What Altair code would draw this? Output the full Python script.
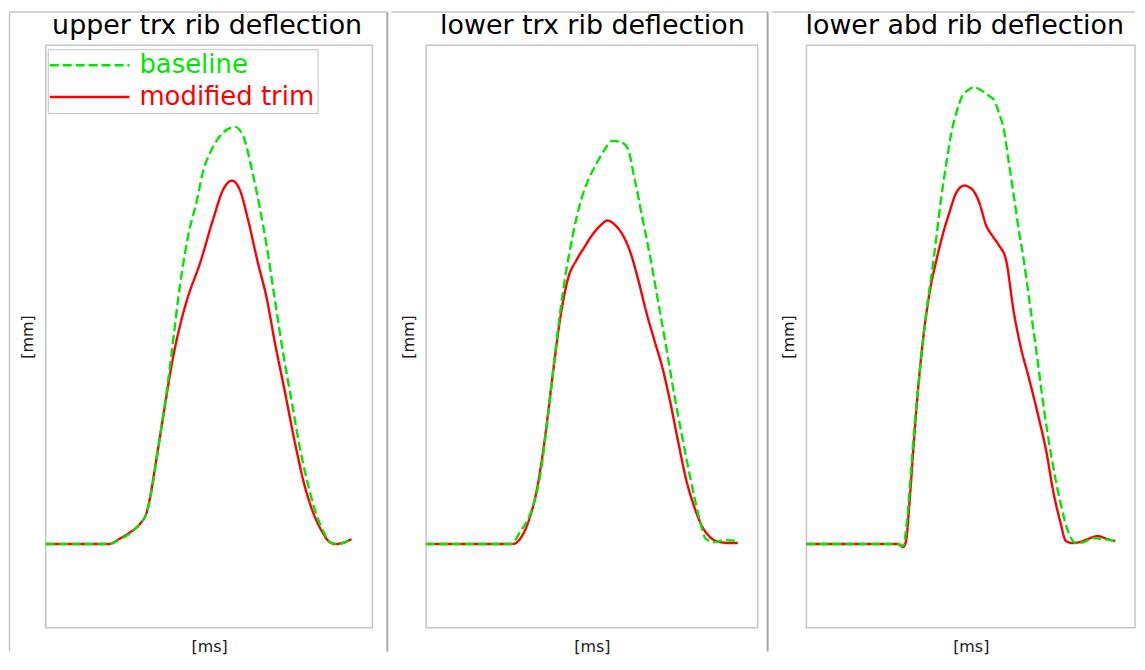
import altair as alt
import pandas as pd

TITLES = ["upper trx rib deflection", "lower trx rib deflection", "lower abd rib deflection"]
SERIES = ["baseline", "modified trim"]
COLORS = ["#00e600", "#ff0000"]
X_TITLE = "[ms]"
Y_TITLE = "[mm]"

# panel 1 : upper trx rib deflection
P1_BASE_T = [0, 19.2, 22.9, 25.9, 29.0, 30.5, 31.4, 32.6, 33.8, 35.1, 36.6, 38.1, 39.3, 40.5, 41.8, 43.6, 46.3, 48.2, 50.3, 53.4,
             55.8, 57.9, 60.4, 63.1, 65.5, 67.7, 70.1, 72.6, 75.3, 77.7, 80.2, 82.3, 84.5, 87.5, 89.9, 91.8, 93.6]
P1_BASE_V = [0, 0, 0.5, 1.1, 2.1, 2.8, 3.8, 5.8, 8.3, 11.1, 14.3, 18.1, 21.3, 24.6, 27.6, 31.0, 34.6, 37.5, 39.3, 41.0,
             41.7, 41.9, 41.0, 37.6, 33.8, 29.8, 24.6, 19.3, 14.3, 9.8, 6.1, 3.5, 1.6, 0.1, 0, 0.2, 0.5]
P1_MOD_T = [0, 19.2, 22.9, 25.9, 29.0, 30.8, 32.0, 33.5, 35.1, 36.9, 38.7, 41.2, 43.3, 47.3, 51.2, 54.3, 57.0, 59.5, 61.9, 64.9,
            67.7, 70.1, 73.2, 76.2, 79.3, 81.7, 84.5, 86.9, 88.7, 90.5, 92.4, 93.6]
P1_MOD_V = [0, 0, 0.6, 1.2, 2.1, 3.1, 4.8, 7.8, 11.1, 14.8, 18.3, 22.1, 24.6, 28.3, 32.6, 35.6, 36.5, 35.5, 32.6, 28.3,
            24.6, 20.3, 15.3, 10.3, 5.8, 3.3, 1.3, 0.2, 0, 0.1, 0.3, 0.5]

# panel 2 : lower trx rib deflection
P2_BASE_T = [0, 25.5, 28.5, 31.5, 34.5, 36.9, 39.3, 41.7, 44.1, 46.5, 48.8, 51.2, 53.6, 56.2, 58.6, 60.7, 62.8, 65.2, 67.6, 70.0,
             72.4, 75.1, 77.8, 80.2, 82.6, 84.4, 87.1, 90.1, 94.0]
P2_BASE_V = [0, 0, 1.3, 3.1, 7.1, 13.3, 20.3, 26.3, 30.8, 34.3, 36.5, 38.1, 39.5, 40.5, 40.4, 39.8, 36.8, 32.8, 28.8, 24.3,
             19.8, 14.5, 9.8, 5.8, 2.3, 0.5, 0.2, 0.4, 0.3]
P2_MOD_T = [0, 26.1, 28.5, 30.9, 33.3, 35.7, 38.1, 40.5, 42.9, 45.3, 47.7, 50.2, 52.6, 54.7, 56.8, 59.2, 61.6, 64.0, 66.4, 68.8,
            71.2, 73.6, 76.0, 78.4, 80.8, 83.2, 85.6, 88.6, 91.6, 94.0]
P2_MOD_V = [0, 0, 0.6, 2.3, 5.3, 10.3, 16.8, 22.8, 26.8, 28.5, 29.8, 31.1, 32.0, 32.5, 32.1, 31.1, 29.3, 26.5, 23.3, 20.5,
            17.8, 14.3, 10.3, 6.5, 3.8, 1.8, 0.7, 0.2, 0.1, 0.1]

# panel 3 : lower abd rib deflection
P3_BASE_T = [0, 27.9, 29.4, 30.6, 31.8, 33.0, 34.5, 36.3, 38.7, 39.6, 41.1, 42.6, 44.1, 45.6, 47.4, 49.2, 51.1, 53.5, 55.6, 57.1,
             58.6, 60.1, 61.6, 63.1, 64.6, 66.1, 67.9, 70.0, 72.4, 74.8, 77.2, 79.6, 82.0, 84.4, 87.1, 90.1, 94.0]
P3_BASE_V = [0, 0, -0.2, 2.3, 7.3, 12.3, 17.3, 22.8, 28.6, 31.0, 35.0, 38.3, 41.3, 43.3, 45.0, 45.6, 45.9, 45.5, 45.0, 44.6,
             43.3, 41.6, 38.3, 35.0, 31.6, 28.6, 24.3, 19.3, 13.3, 8.3, 4.3, 1.3, 0.1, 0.2, 0.6, 0.5, 0.3]
P3_MOD_T = [0, 27.9, 29.4, 30.3, 31.5, 32.7, 33.9, 35.4, 37.5, 39.6, 41.4, 43.5, 45.6, 48.0, 50.5, 52.6, 54.7, 56.5, 58.6, 60.7,
            63.1, 65.2, 67.6, 70.6, 73.0, 75.1, 77.2, 79.0, 81.1, 83.2, 85.6, 88.6, 91.6, 94.0]
P3_MOD_V = [0, 0, -0.3, 0.3, 4.8, 10.3, 15.3, 20.3, 25.3, 28.6, 31.0, 33.3, 35.3, 36.0, 35.6, 34.3, 32.0, 31.0, 30.0, 28.6,
            23.3, 19.8, 16.8, 12.8, 9.3, 5.3, 2.3, 0.3, 0.1, 0.2, 0.5, 0.8, 0.5, 0.3]

FONT = "DejaVu Sans"
FRAME = "#c4c4c4"
SEP = "#a8a8a8"
HEIGHT = 585


def series_frame(bt, bv, mt, mv):
    rows = [{"t": t, "v": v, "series": SERIES[1]} for t, v in zip(mt, mv)]
    rows += [{"t": t, "v": v, "series": SERIES[0]} for t, v in zip(bt, bv)]
    return pd.DataFrame(rows)


def panel(df, title, width, title_x, left_x, right_x, sep_x, show_legend):
    one = pd.DataFrame({"k": [0]})
    x = alt.X("t:Q", scale=alt.Scale(domain=[0, 100], nice=False, zero=False),
              axis=alt.Axis(title=X_TITLE, labels=False, ticks=False, domain=False, grid=False,
                            titleFont=FONT, titleFontSize=16, titleFontWeight="normal",
                            titleColor="#1a1a1a", titlePadding=11))
    y = alt.Y("v:Q", scale=alt.Scale(domain=[-8.4, 50.1], nice=False, zero=False),
              axis=alt.Axis(title=Y_TITLE, labels=False, ticks=False, domain=False, grid=False,
                            titleFont=FONT, titleFontSize=16, titleFontWeight="normal",
                            titleColor="#1a1a1a", titlePadding=10))
    if show_legend:
        legend = alt.Legend(
            title=None, orient="none", legendX=2, legendY=4, direction="vertical",
            symbolType="M-8,0H8", symbolSize=100, symbolStrokeWidth=2.4, symbolOffset=26,
            labelFont=FONT, labelFontSize=26, labelOffset=37, labelLimit=400,
            labelColor={"expr": "datum.label == 'baseline' ? '#00e600' : '#ff0000'"},
            rowPadding=6, padding=3, strokeColor=FRAME, fillColor="white", cornerRadius=0,
        )
    else:
        legend = None
    color = alt.Color("series:N", scale=alt.Scale(domain=SERIES, range=COLORS), legend=legend)
    dash = alt.StrokeDash("series:N", scale=alt.Scale(domain=SERIES, range=[[9, 4], [1, 0]]), legend=legend)

    base = alt.Chart(df).encode(x=x, y=y, color=color, strokeDash=dash)
    red = base.transform_filter(alt.datum.series == SERIES[1]).mark_line(strokeWidth=2.4, interpolate="monotone")
    green = base.transform_filter(alt.datum.series == SERIES[0]).mark_line(strokeWidth=2.4, interpolate="monotone")

    layers = []
    top = alt.Chart(one).mark_rule(color=FRAME, strokeWidth=1.5).encode(
        x=alt.value(left_x), x2=alt.value(right_x), y=alt.value(-33.5))
    layers.append(top)
    if sep_x is not None:
        layers.append(alt.Chart(one).mark_rule(color=SEP, strokeWidth=2).encode(
            x=alt.value(sep_x), y=alt.value(-33.5), y2=alt.value(HEIGHT + 24)))
    if show_legend:
        layers.append(alt.Chart(one).mark_rule(color=FRAME, strokeWidth=1.5).encode(
            x=alt.value(left_x), y=alt.value(-33.5), y2=alt.value(HEIGHT + 24)))
    ttl = alt.Chart(pd.DataFrame({"title": [title]})).mark_text(
        font=FONT, fontSize=27, align="center", baseline="alphabetic", color="black"
    ).encode(x=alt.value(title_x), y=alt.value(-11), text="title:N")
    layers += [ttl, red, green]
    return alt.layer(*layers).properties(width=width, height=HEIGHT)


p1 = panel(series_frame(P1_BASE_T, P1_BASE_V, P1_MOD_T, P1_MOD_V), TITLES[0], 328, 162, -36.5, 343, 343, True)
p2 = panel(series_frame(P2_BASE_T, P2_BASE_V, P2_MOD_T, P2_MOD_V), TITLES[1], 333, 167, -35, 343, 343, False)
p3 = panel(series_frame(P3_BASE_T, P3_BASE_V, P3_MOD_T, P3_MOD_V), TITLES[2], 330, 159, -35, 330, None, False)

chart = alt.hconcat(p1, p2, p3, spacing=0).resolve_scale(
    color="independent", strokeDash="independent"
).properties(padding=0, background="white").configure_view(stroke=FRAME, strokeWidth=1.5)

chart.save("out.html", embed_options={"renderer": "svg", "actions": False})
